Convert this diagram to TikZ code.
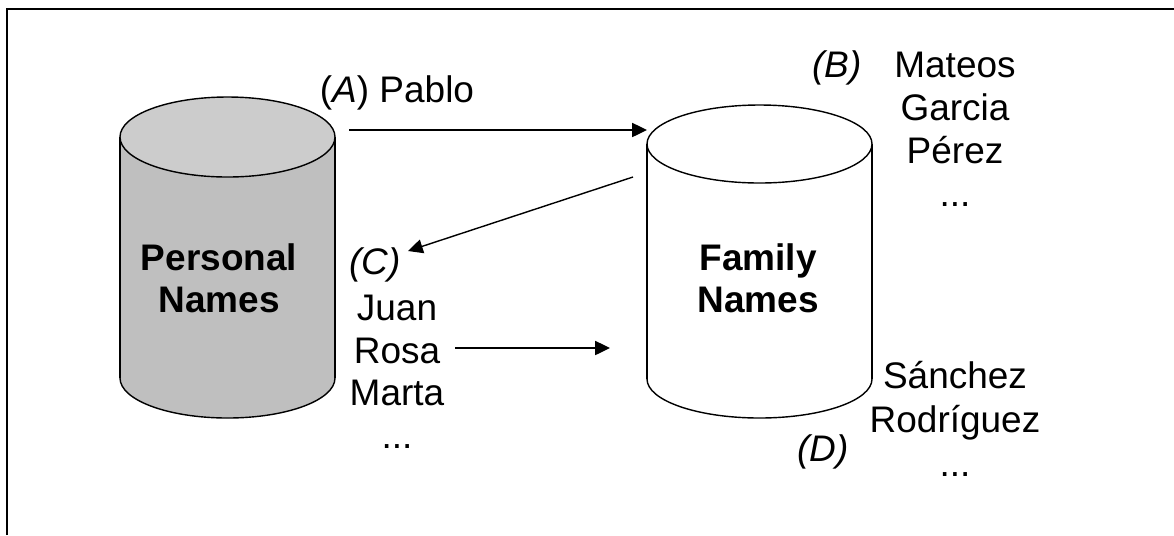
\documentclass[tikz,border=0pt]{standalone}
\usepackage{fontspec}
\setmainfont{Liberation Sans}
\usetikzlibrary{arrows.meta}
\usetikzlibrary{positioning}

\newcommand{\moredots}{...}

\tikzset{
  dbline/.style={line width=1pt},
  namelist/.style={anchor=base, inner sep=0pt, font=\fontsize{26.3}{30}\selectfont},
  tag/.style={namelist, font=\fontsize{26.3}{30}\selectfont\itshape},
  dbname/.style={namelist, font=\fontsize{26.3}{30}\selectfont\bfseries},
  link/.style={-{Triangle[length=10.5pt,width=10pt]}, line width=1pt},
}

\begin{document}
\begin{tikzpicture}[x=0.025cm, y=-0.025cm]
    \useasboundingbox (0,0) rectangle (1174,535);

    % frame (top and left edges only)
    \draw[line width=1.6pt] (7,535) -- (7,9) -- (1174,9);

    % the two databases: centre x / x radius / y radius / top / bottom / body / lid
    \foreach \cx/\rx/\ry/\top/\bot/\body/\lid in
        {227.5/107.5/40/137/378/black!25/black!20, 759.5/112.5/39/144/379/white/white} {
        \fill[\body] (\cx-\rx,\top) rectangle (\cx+\rx,\bot);
        \fill[\body] (\cx,\bot) ellipse[x radius=\rx, y radius=\ry];
        \begin{scope}
            \clip (\cx-\rx-10,\bot) rectangle (\cx+\rx+10,\bot+\ry+10);
            \draw[dbline] (\cx,\bot) ellipse[x radius=\rx, y radius=\ry];
        \end{scope}
        \draw[dbline] (\cx-\rx,\top) -- (\cx-\rx,\bot);
        \draw[dbline] (\cx+\rx,\top) -- (\cx+\rx,\bot);
        \draw[dbline, fill=\lid] (\cx,\top) ellipse[x radius=\rx, y radius=\ry];
    }
    \coordinate (personal) at (227.5,257);
    \coordinate (family) at (759.5,261);
    \coordinate (family-west) at (647,261);

    \node[dbname] (personal-1) at (219,270) {Personal};
    \node[dbname] (personal-2) at (219,312) {Names};
    \node[dbname] (family-1) at (758,270) {Family};
    \node[dbname] (family-2) at (758,312) {Names};

    % tags
    \node[namelist] (pablo) at (397,102) {(\textit{A}) Pablo};
    \node[tag] (tagB) at (837,77) {(B)};
    \node[tag] (tagC) at (375,274) {(C)};
    \node[tag] (tagD) at (823,461) {(D)};

    % lists of names
    \foreach \name/\y [count=\i] in {Mateos/77, Garcia/120, Pérez/163, \moredots/206} {
        \node[namelist] (listB-\i) at (955,\y) {\name};
    }
    \foreach \name/\y [count=\i] in {Juan/320, Rosa/363, Marta/405, \moredots/448} {
        \node[namelist] (listC-\i) at (397,\y) {\name};
    }
    \foreach \name/\y [count=\i] in {Sánchez/388, Rodríguez/432, \moredots/476} {
        \node[namelist] (listD-\i) at (955,\y) {\name};
    }

    % arrows
    \coordinate (pablo-from) at (349,130);
    \coordinate (family-from) at (633,177);
    \coordinate (tagC-to) at (408,251);
    \coordinate (rosa-from) at (455,348);
    \coordinate (rosa-to) at (610,348);
    \draw[link] (pablo-from) -- (pablo-from -| family-west);
    \draw[link] (family-from) -- (tagC-to);
    \draw[link] (rosa-from) -- (rosa-to);
\end{tikzpicture}
\end{document}
